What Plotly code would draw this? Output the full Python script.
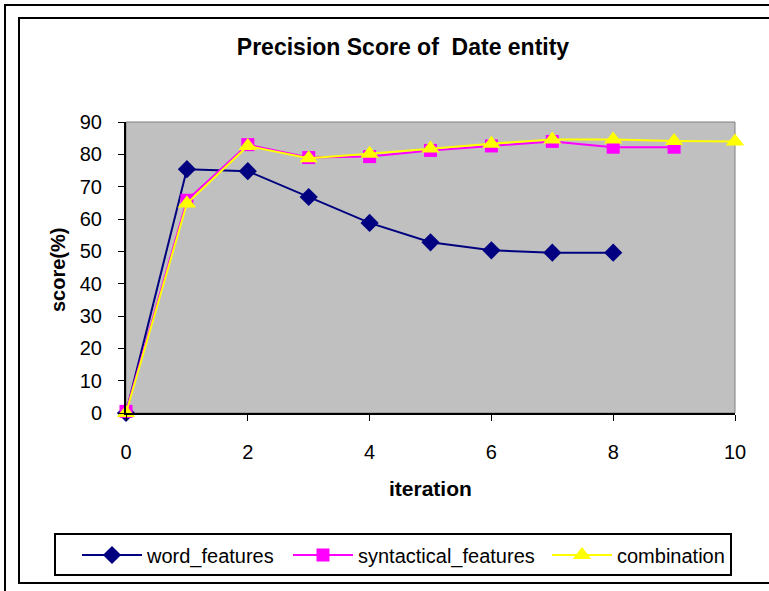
import plotly.graph_objects as go

iterations_word = [0, 1, 2, 3, 4, 5, 6, 7, 8]
word_features = [0, 75.4, 74.8, 66.8, 58.8, 52.8, 50.3, 49.6, 49.6]

iterations_syn = [0, 1, 2, 3, 4, 5, 6, 7, 8, 9]
syntactical_features = [0.5, 65.8, 83.0, 79.0, 79.3, 81.2, 82.6, 84.0, 82.2, 82.2]

iterations_comb = [0, 1, 2, 3, 4, 5, 6, 7, 8, 9, 10]
combination = [0, 64.8, 82.6, 78.8, 80.2, 81.8, 83.3, 84.6, 84.6, 84.1, 84.0]

x_ticks = [0, 2, 4, 6, 8, 10]
y_ticks = [0, 10, 20, 30, 40, 50, 60, 70, 80, 90]

W, H = 769, 591
L, R, T, B = 126, 735, 122, 413

def px(x):
    return (x - L) / (R - L)

def py(y):
    return (B - y) / (B - T)

fig = go.Figure()
fig.add_trace(go.Scatter(
    x=iterations_word, y=word_features, name="word_features", mode="lines+markers",
    line=dict(color="#000080", width=2), legend="legend",
    marker=dict(symbol="diamond", size=14, color="#000080"), cliponaxis=False))
fig.add_trace(go.Scatter(
    x=iterations_syn, y=syntactical_features, name="syntactical_features", mode="lines+markers",
    line=dict(color="#FF00FF", width=2), legend="legend2",
    marker=dict(symbol="square", size=13, color="#FF00FF"), cliponaxis=False))
fig.add_trace(go.Scatter(
    x=iterations_comb, y=combination, name="combination", mode="lines+markers",
    line=dict(color="#FFFF00", width=2), legend="legend3",
    marker=dict(symbol="triangle-up", size=16, color="#FFFF00"), cliponaxis=False))

font = "Liberation Sans, Arial, sans-serif"
shapes = [
    dict(type="rect", xref="paper", yref="paper", x0=px(5), x1=px(800), y0=py(800), y1=py(5),
         line=dict(color="black", width=2), fillcolor="rgba(0,0,0,0)", layer="below"),
    dict(type="rect", xref="paper", yref="paper", x0=px(19), x1=px(800), y0=py(583), y1=py(18),
         line=dict(color="black", width=2), fillcolor="rgba(0,0,0,0)", layer="below"),
    dict(type="rect", xref="paper", yref="paper", x0=0, x1=1, y0=0, y1=1,
         line=dict(color="#808080", width=1), fillcolor="rgba(0,0,0,0)", layer="below"),
    dict(type="rect", xref="paper", yref="paper", x0=px(55), x1=px(731), y0=py(575), y1=py(534),
         line=dict(color="black", width=2), fillcolor="rgba(0,0,0,0)"),
]

def leg(xpix):
    return dict(orientation="h", x=px(xpix), xanchor="left", y=py(555), yanchor="middle",
                bgcolor="rgba(0,0,0,0)", borderwidth=0, font=dict(size=20, family=font),
                itemwidth=60)

annotations = [
    dict(text="<b>iteration</b>", xref="paper", yref="paper", x=px(430), y=py(488),
         xanchor="center", yanchor="middle", showarrow=False, font=dict(size=21, family=font)),
    dict(text="<b>score(%)</b>", xref="paper", yref="paper", x=px(58), y=py(270),
         xanchor="center", yanchor="middle", showarrow=False, textangle=-90,
         font=dict(size=20, family=font)),
]

fig.update_layout(
    width=W, height=H,
    margin=dict(l=L, r=W - R, t=T, b=H - B),
    paper_bgcolor="white", plot_bgcolor="#C0C0C0",
    font=dict(family=font, size=20, color="black"),
    title=dict(text="<b>Precision Score of  Date entity</b>", x=403 / W, xanchor="center",
               y=1 - 47 / H, yanchor="middle", font=dict(size=23, family=font)),
    xaxis=dict(range=[0, 10], tickvals=x_ticks, showgrid=False, zeroline=False,
               showline=True, linecolor="black", linewidth=2, ticks="outside", ticklen=6,
               tickcolor="black", tickwidth=1, tickfont=dict(size=20),
               ticklabelstandoff=14),
    yaxis=dict(range=[0, 90], tickvals=y_ticks, showgrid=False, zeroline=False,
               showline=True, linecolor="black", linewidth=2, ticks="outside", ticklen=6,
               tickcolor="black", tickwidth=1, tickfont=dict(size=20),
               ticklabelstandoff=12),
    showlegend=True,
    legend=leg(77), legend2=leg(288), legend3=leg(547),
    shapes=shapes, annotations=annotations,
)

fig.write_html("out.html")
